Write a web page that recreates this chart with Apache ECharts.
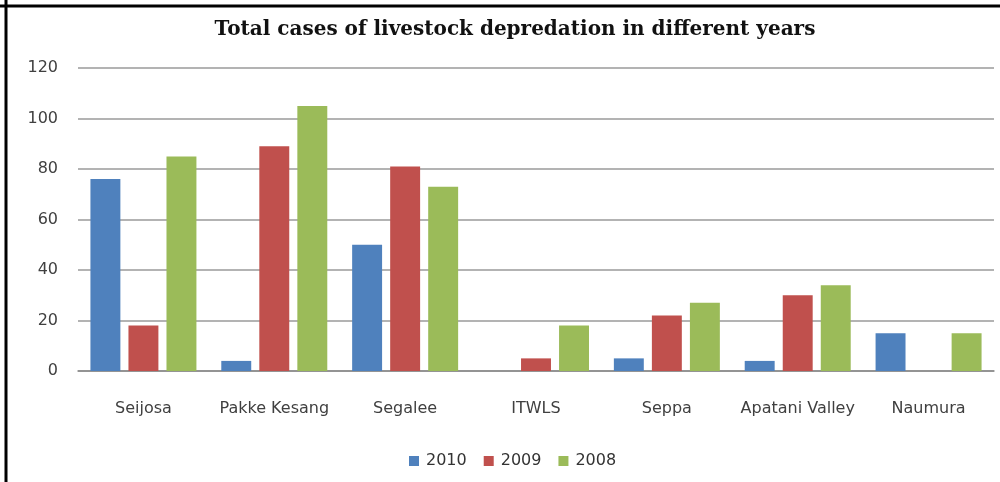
<!DOCTYPE html>
<html>
<head>
<meta charset="utf-8">
<script src="https://cdn.jsdelivr.net/npm/echarts@6/dist/echarts.min.js"></script>
<style>
html,body{margin:0;padding:0;background:#fff;}
#c{width:1000px;height:482px;}
</style>
</head>
<body>
<div id="c"></div>
<script>
const categories = ['Seijosa', 'Pakke Kesang', 'Segalee', 'ITWLS', 'Seppa', 'Apatani Valley', 'Naumura'];
const seriesNames = ['2010', '2009', '2008'];
const values2010 = [76, 4, 50, 0, 5, 4, 15];
const values2009 = [18, 89, 81, 5, 22, 30, 0];
const values2008 = [85, 105, 73, 18, 27, 34, 15];
const yTicks = [0, 20, 40, 60, 80, 100, 120];

const colors = ['#4F81BD', '#C0504D', '#9BBB59'];
const chart = echarts.init(document.getElementById('c'), null, {renderer: 'canvas'});
const labelFont = '"DejaVu Sans", "Open Sans", sans-serif';
chart.setOption({
  animation: false,
  backgroundColor: '#fff',
  title: {
    text: 'Total cases of livestock depredation in different years',
    left: 510, top: 15, textAlign: 'center',
    textStyle: {fontFamily: '"DejaVu Serif", "Liberation Serif", serif', fontWeight: 'bold', fontSize: 20, color: '#111'}
  },
  legend: {
    bottom: 8, left: 404,
    itemWidth: 10, itemHeight: 10, itemGap: 17,
    icon: 'rect',
    textStyle: {fontFamily: labelFont, fontSize: 16, color: '#333', padding: [0, 0, 0, 2]},
    data: seriesNames
  },
  grid: {left: 78, right: 6, top: 68, bottom: 111, containLabel: false},
  xAxis: {
    type: 'category', data: categories,
    axisLine: {lineStyle: {color: '#8a8a8a', width: 1.5}},
    axisTick: {show: false},
    axisLabel: {interval: 0, fontFamily: labelFont, fontSize: 16, color: '#404040', margin: 30}
  },
  yAxis: {
    type: 'value', min: yTicks[0], max: yTicks[yTicks.length - 1], interval: 20,
    axisLine: {show: false}, axisTick: {show: false},
    axisLabel: {fontFamily: labelFont, fontSize: 16, color: '#404040', margin: 20},
    splitLine: {lineStyle: {color: '#9a9a9a', width: 1.5}}
  },
  series: [values2010, values2009, values2008].map((d, i) => ({
    name: seriesNames[i], type: 'bar', data: d,
    itemStyle: {color: colors[i]},
    barGap: '27%', barCategoryGap: '19%'
  })),
  graphic: [
    {type: 'line', shape: {x1: 6, y1: 0, x2: 6, y2: 482}, style: {stroke: '#000', lineWidth: 3}},
    {type: 'line', shape: {x1: 0, y1: 6, x2: 1000, y2: 6}, style: {stroke: '#000', lineWidth: 3}}
  ]
});
</script>
</body>
</html>
